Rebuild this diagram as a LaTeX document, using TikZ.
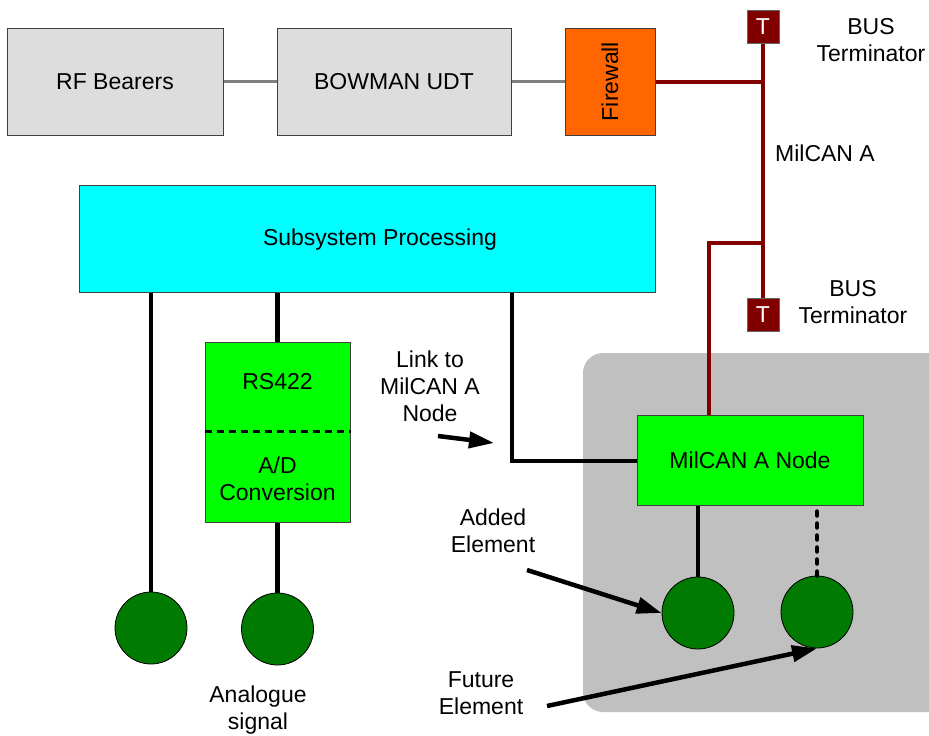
\documentclass[tikz,border=0pt]{standalone}
\usepackage{fontspec}
\setmainfont{Liberation Sans}
\usetikzlibrary{arrows.meta}
\definecolor{boxgray}{HTML}{DDDDDD}
\definecolor{fwor}{HTML}{FF6600}
\definecolor{cyanbox}{HTML}{00FFFF}
\definecolor{greenbox}{HTML}{00FF00}
\definecolor{dkgreen}{HTML}{007A00}
\definecolor{busred}{HTML}{800000}
\definecolor{bggray}{HTML}{C0C0C0}
\tikzset{
  lbl/.style={font=\fontsize{23}{27}\selectfont, align=center, inner sep=0pt},
  box/.style={draw=black!75, line width=1pt, inner sep=0pt, align=center, font=\fontsize{23}{27}\selectfont},
  termbox/.style={draw=black!60, line width=1pt, fill=busred, text=white, minimum width=32pt, minimum height=33pt, inner sep=0pt, font=\fontsize{23}{27}\selectfont},
  elem/.style={circle, draw=black, line width=0.8pt, fill=dkgreen, minimum size=72pt, inner sep=0pt},
  grayline/.style={draw=gray, line width=2.2pt},
  busline/.style={draw=busred, line width=4.2pt},
  blk/.style={draw=black, line width=4.5pt},
  pointer/.style={draw=black, line width=4.5pt, -{Triangle[length=25pt,width=16pt]}},
}
\begin{document}
\begin{tikzpicture}[x=1pt,y=-1pt]
\useasboundingbox (0,0) rectangle (929,736);
% grey background panel
\fill[bggray, rounded corners=20pt] (583,353) rectangle (960,712);

% top row
\node[box, fill=boxgray, minimum width=216pt, minimum height=107pt] (rf) at (115,81.5) {RF Bearers};
\node[box, fill=boxgray, minimum width=234pt, minimum height=107pt] (bow) at (394,81.5) {BOWMAN UDT};
\node[box, fill=fwor, minimum width=90pt, minimum height=107pt] (fw) at (610,81.5) {};
\node[lbl, rotate=90] (fwt) at (610,81.5) {Firewall};
\draw[grayline] (rf.east) -- (bow.west);
\draw[grayline] (bow.east) -- (fw.west);

% bus
\node[termbox] (tt) at (763,26.5) {T};
\node[termbox] (tb) at (763,314.5) {T};
\coordinate (busA) at (763,82);
\coordinate (busB) at (763,243);
\coordinate (rb) at (709,243);
\node[lbl] (bt1) at (871,40) {BUS\\Terminator};
\node[lbl] (bt2) at (853,302) {BUS\\Terminator};
\node[lbl] (mca) at (825,153) {MilCAN A};

% subsystem
\node[box, fill=cyanbox, minimum width=576pt, minimum height=107pt] (sub) at (367,238.5) {};
\node[lbl] (subt) at (380,240) {Subsystem Processing};

% RS422 box
\node[box, fill=greenbox, minimum width=145pt, minimum height=180pt] (rs) at (277.5,432) {};
\node[lbl] (rst) at (277.5,382) {RS422};
\node[lbl] (adt) at (277.5,479) {A/D\\Conversion};
\draw[black, line width=3pt, dash pattern=on 7pt off 5pt] (rs.west |- 0,431) -- (rs.east |- 0,431);

% MilCAN node
\node[box, fill=greenbox, minimum width=226pt, minimum height=90pt] (mcn) at (750,460) {MilCAN A Node};

% elements
\node[elem] (c1) at (151,628) {};
\node[elem] (c2) at (277.5,629) {};
\node[elem] (c3) at (698,613) {};
\node[elem] (c4) at (817,612) {};

% bus lines
\draw[busline] (fw.east |- busA) -- (busA);
\draw[busline] (tt.south) -- (tb.north);
\draw[busline] (mcn.north -| rb) -- (rb) -- (busB);

% black connectors
\draw[blk] (sub.south -| c1) -- (c1.north);
\draw[blk] (sub.south -| rs.north) -- (rs.north);
\draw[blk] (rs.south) -- (c2.north);
\coordinate (lk) at (512,461);
\draw[blk] (sub.south -| lk) -- (lk) -- (lk -| mcn.west);
\draw[blk] (mcn.south -| c3) -- (c3.north);
\draw[black, line width=4.5pt, line cap=round, dash pattern=on 4pt off 8pt] (mcn.south -| c4) ++(0,6) -- (c4.north);

% labels and pointers
\node[lbl] (ana) at (258,710) {Analogue\\signal};
\node[lbl] (lnk) at (430,386) {Link to\\MilCAN A\\Node};
\node[lbl] (add) at (493,531) {Added\\Element};
\node[lbl] (fut) at (481,693) {Future\\Element};
\coordinate (lS) at (438,436);
\coordinate (lT) at (494,443);
\draw[pointer] (lS) -- (lT);
\coordinate (aS) at (527,570);
\draw[pointer] (aS) -- (c3.west);
\coordinate (fS) at (547,706);
\draw[pointer] (fS) -- (c4.south);
\end{tikzpicture}
\end{document}
